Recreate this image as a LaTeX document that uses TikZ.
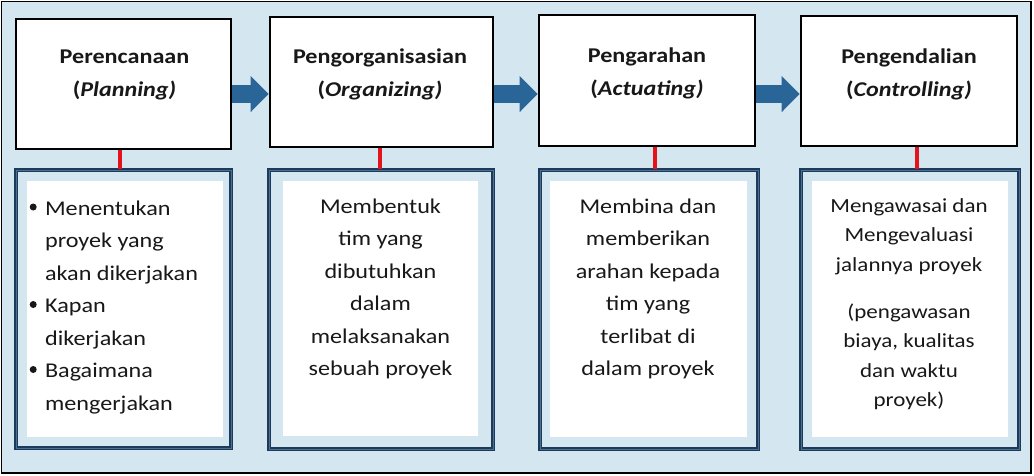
\documentclass[tikz,border=0pt]{standalone}
\usepackage{fontspec}
\setmainfont{Carlito}[FakeStretch=1.15]
\usetikzlibrary{arrows.meta}
\definecolor{bgblue}{HTML}{D4E7F1}
\definecolor{navy}{HTML}{1C3B5C}
\definecolor{navylight}{HTML}{4F6F8E}
\definecolor{flowblue}{HTML}{2A6598}
\definecolor{linkred}{HTML}{E3121B}
\definecolor{ink}{HTML}{181818}
\newcommand{\bulletdot}{\makebox[15.4pt][l]{\tikz[baseline=0pt]\fill[ink] (3.5pt,8pt) circle[radius=3.5pt];}}
\begin{document}
\begin{tikzpicture}[x=1pt,y=-1pt,
  phase/.style={draw=black, line width=2.6pt, fill=white, inner sep=0pt},
  detail/.style={draw=navy, double=navylight, double distance=0.6pt, line width=1.3pt, fill=bgblue, inner sep=0pt},
  sheet/.style={fill=white, draw=none, inner sep=0pt},
  title/.style={font=\fontsize{21}{33}\selectfont\bfseries, text=ink, inner sep=0pt, anchor=base},
  body/.style={font=\fontsize{21}{32.5}\selectfont, text=ink, inner sep=0pt, anchor=base},
  smallbody/.style={font=\fontsize{20}{29.5}\selectfont, text=ink, inner sep=0pt, anchor=base},
  flow/.style={draw=flowblue, line width=18pt, -{Triangle[length=18pt 0, width=35pt 0]}},
  link/.style={draw=linkred, line width=3.4pt}]
\useasboundingbox (0,0) rectangle (1034,475);
\fill[white] (0,0) rectangle (1034,475);
\draw[fill=bgblue, line width=1.2pt] (1.5,1.5) rectangle (1031,473);

% top phase boxes
\node[phase, minimum width=215pt, minimum height=130pt] (p1) at (123.5,84) {};
\node[phase, minimum width=223pt, minimum height=130pt] (p2) at (381.5,82) {};
\node[phase, minimum width=216pt, minimum height=131pt] (p3) at (647,80.5) {};
\node[phase, minimum width=216pt, minimum height=130pt] (p4) at (909,81) {};

% titles
\node[title] (t1) at (124.5,63) {\begin{tabular}[t]{@{}c@{}}Perencanaan\\(\textit{Planning)}\end{tabular}};
\node[title] (t2) at (380,63) {\begin{tabular}[t]{@{}c@{}}Pengorganisasian\\(\textit{Organizing)}\end{tabular}};
\node[title] (t3) at (647,62) {\begin{tabular}[t]{@{}c@{}}Pengarahan\\(\textit{Actuating)}\end{tabular}};
\node[title] (t4) at (909,63) {\begin{tabular}[t]{@{}c@{}}Pengendalian\\(\textit{Controlling)}\end{tabular}};

% lower detail boxes
\node[detail, minimum width=215pt, minimum height=278pt] (l1) at (123.5,309) {};
\node[detail, minimum width=224pt, minimum height=279pt] (l2) at (381,309.5) {};
\node[detail, minimum width=218pt, minimum height=279pt] (l3) at (649,309.5) {};
\node[detail, minimum width=218pt, minimum height=279pt] (l4) at (910,309.5) {};

\node[sheet, minimum width=196pt, minimum height=256pt] (s1) at (125,309) {};
\node[sheet, minimum width=195pt, minimum height=255pt] (s2) at (380.5,308.5) {};
\node[sheet, minimum width=197pt, minimum height=256pt] (s3) at (648.5,309) {};
\node[sheet, minimum width=196pt, minimum height=256pt] (s4) at (910,309) {};

% body texts
\node[body, anchor=base west] (b1) at (29.5,215) {\begin{tabular}[t]{@{}l@{}l@{}}
\bulletdot&Menentukan\\
&proyek yang\\
&akan dikerjakan\\
\bulletdot&Kapan\\
&dikerjakan\\
\bulletdot&Bagaimana\\
&mengerjakan\end{tabular}};
\node[body] (b2) at (380.5,213) {\begin{tabular}[t]{@{}c@{}}Membentuk\\tim yang\\dibutuhkan\\dalam\\melaksanakan\\sebuah proyek\end{tabular}};
\node[body] (b3) at (648,213) {\begin{tabular}[t]{@{}c@{}}Membina dan\\memberikan\\arahan kepada\\tim yang\\terlibat di\\dalam proyek\end{tabular}};
\node[smallbody] (b4) at (909,212) {\begin{tabular}[t]{@{}c@{}}Mengawasai dan\\Mengevaluasi\\jalannya proyek\\[17.5pt](pengawasan\\biaya, kualitas\\dan waktu\\proyek)\end{tabular}};

% flow arrows
\coordinate (lane) at (0,94);
\draw[flow] (p1.east |- lane) -- (p2.west |- lane);
\draw[flow] (p2.east |- lane) -- (p3.west |- lane);
\draw[flow] (p3.east |- lane) -- (p4.west |- lane);

% red links
\draw[link] ([xshift=-3.5pt]p1.south) -- ([xshift=-3.5pt]p1.south |- l1.north);
\draw[link] ([xshift=-1.5pt]p2.south) -- ([xshift=-1.5pt]p2.south |- l2.north);
\draw[link] ([xshift=8pt]p3.south) -- ([xshift=8pt]p3.south |- l3.north);
\draw[link] ([xshift=8pt]p4.south) -- ([xshift=8pt]p4.south |- l4.north);
\end{tikzpicture}
\end{document}
